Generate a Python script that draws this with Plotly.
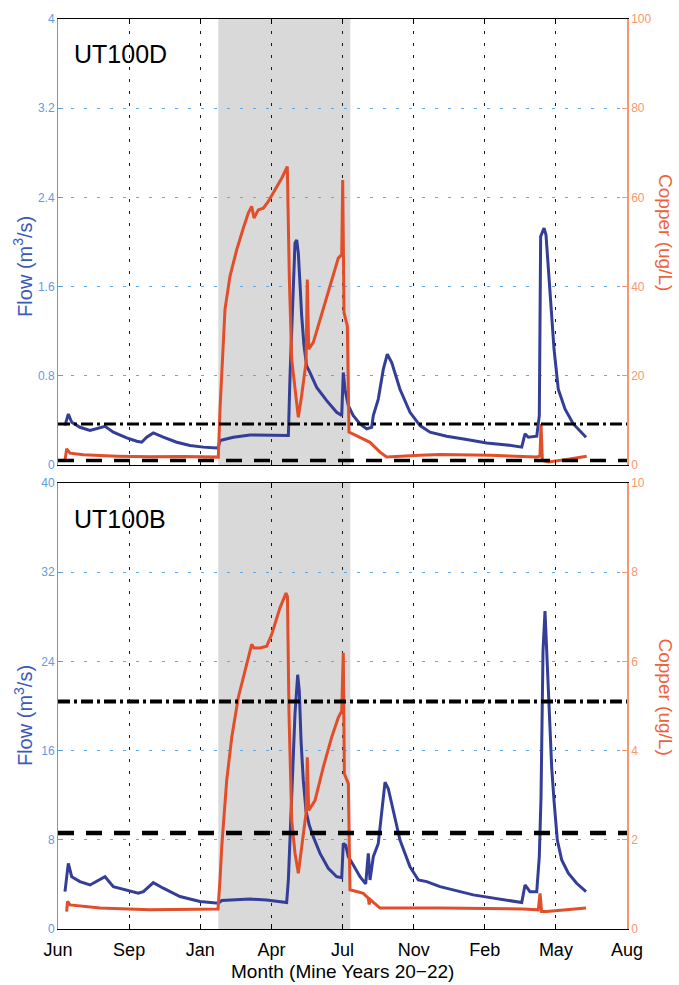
import plotly.graph_objects as go

# ---- axis definitions -------------------------------------------------------
tick_days = [0, 100, 200, 300, 400, 500, 600, 700, 800]
month_labels = ["Jun", "Sep", "Jan", "Apr", "Jul", "Nov", "Feb", "May", "Aug"]

ud_flow_ticks = [0, 0.8, 1.6, 2.4, 3.2, 4]
ud_cu_ticks = [0, 20, 40, 60, 80, 100]
ub_flow_ticks = [0, 8, 16, 24, 32, 40]
ub_cu_ticks = [0, 2, 4, 6, 8, 10]

# shaded period (days since start of record)
shade_period = [225.4, 411.0]

# guideline levels, copper (ug/L): [dash-dot, dashed]
ud_cu_guides = [9.2, 1.0]
ub_cu_guides = [5.1, 2.15]

# ---- UT100D series: (day, value) ------------------------------------------
ud_flow = [
    (9.8, 0.354), (11.2, 0.393), (14.5, 0.458), (19.3, 0.384), (30.9, 0.339),
    (45.0, 0.310), (54.4, 0.324), (66.1, 0.348), (77.8, 0.295), (96.6, 0.244),
    (110.7, 0.214), (117.7, 0.205), (124.7, 0.250), (134.0, 0.288), (148.0, 0.250),
    (166.9, 0.205), (185.6, 0.176), (204.3, 0.161), (223.1, 0.154), (225.4, 0.160),
    (227.8, 0.220), (246.5, 0.250), (270.0, 0.270), (293.4, 0.265), (321.5, 0.265),
    (323.9, 0.265), (326.2, 0.800), (333.2, 1.990), (335.6, 2.020), (337.9, 1.900),
    (340.2, 1.630), (342.6, 1.340), (345.9, 1.070), (349.6, 0.890), (354.3, 0.830),
    (363.7, 0.696), (377.8, 0.578), (391.8, 0.473), (398.9, 0.444), (401.1, 0.830),
    (403.5, 0.680), (408.2, 0.533), (415.2, 0.444), (424.6, 0.369), (434.0, 0.324),
    (441.0, 0.339), (443.3, 0.444), (450.3, 0.592), (457.4, 0.860), (463.0, 0.994),
    (469.2, 0.920), (480.8, 0.680), (494.9, 0.473), (509.0, 0.354), (523.0, 0.295),
    (546.5, 0.259), (574.6, 0.229), (602.7, 0.199), (630.9, 0.181), (652.0, 0.161),
    (656.6, 0.280), (661.3, 0.250), (673.1, 0.259), (676.7, 0.444), (678.6, 2.050),
    (683.3, 2.125), (686.1, 2.065), (689.4, 1.750), (692.7, 1.400), (697.4, 1.040),
    (703.4, 0.680), (712.8, 0.503), (724.5, 0.369), (742.4, 0.250),
]

ud_copper = [
    (9.8, 1.05), (12.2, 3.64), (16.9, 2.68), (35.6, 2.30), (82.5, 2.00),
    (129.4, 1.85), (176.2, 1.94), (223.1, 1.94), (225.4, 1.79), (227.8, 12.6),
    (230.2, 20.0), (234.8, 34.9), (241.8, 42.3), (251.3, 48.3), (260.5, 53.1),
    (267.6, 56.5), (272.3, 58.0), (275.6, 55.4), (281.6, 57.2), (288.7, 57.6),
    (295.7, 59.1), (305.1, 61.7), (314.5, 64.3), (322.4, 66.9), (325.2, 42.3),
    (328.6, 23.7), (333.2, 17.0), (337.9, 10.7), (342.6, 15.6), (348.7, 23.0),
    (350.5, 41.6), (352.5, 26.0), (359.0, 27.5), (368.4, 32.7), (377.8, 37.9),
    (387.1, 43.1), (394.1, 46.4), (398.9, 47.2), (400.3, 63.9), (402.1, 34.2),
    (406.8, 31.2), (409.1, 7.4), (420.0, 6.6), (438.7, 5.1), (452.7, 2.9),
    (462.1, 1.8), (509.0, 2.2), (537.1, 2.4), (607.4, 2.2), (659.0, 2.0),
    (673.0, 1.8), (677.7, 2.0), (679.1, 9.2), (681.0, 1.05), (689.4, 0.67),
    (715.2, 1.27), (743.3, 2.0),
]

# ---- UT100B series: (day, value) ------------------------------------------
ub_flow = [
    (9.8, 3.35), (12.2, 4.84), (14.5, 5.89), (19.3, 4.69), (30.9, 4.25),
    (45.0, 3.95), (66.1, 4.69), (77.8, 3.80), (96.6, 3.51), (112.9, 3.21),
    (120.0, 3.35), (134.0, 4.16), (148.0, 3.66), (171.5, 2.91), (199.6, 2.46),
    (225.4, 2.32), (230.2, 2.55), (270.0, 2.68), (293.4, 2.61), (321.5, 2.37),
    (323.9, 4.40), (327.2, 10.3), (333.2, 19.3), (337.0, 22.8), (339.3, 21.3),
    (341.7, 16.9), (344.9, 13.3), (348.7, 10.6), (353.3, 9.30), (359.0, 8.26),
    (368.4, 6.78), (380.0, 5.44), (391.8, 4.69), (398.9, 4.60), (401.1, 7.67),
    (404.5, 7.52), (408.2, 6.48), (415.2, 5.74), (424.6, 4.69), (432.6, 4.04),
    (436.3, 6.78), (438.7, 4.40), (443.3, 6.48), (450.3, 7.67), (455.0, 10.35),
    (459.8, 13.17), (464.4, 12.58), (471.4, 10.64), (480.8, 7.97), (494.9, 5.58),
    (506.6, 4.40), (518.4, 4.25), (537.1, 3.80), (583.9, 3.06), (630.9, 2.61),
    (652.0, 2.37), (656.6, 3.95), (663.6, 3.35), (673.1, 3.35), (676.7, 6.48),
    (679.1, 11.8), (681.9, 24.9), (684.7, 28.5), (689.4, 21.9), (691.7, 17.5),
    (694.1, 14.5), (697.4, 11.5), (702.0, 7.97), (708.2, 6.19), (717.5, 5.00),
    (729.2, 4.10), (742.4, 3.35),
]

ub_copper = [
    (12.2, 0.39), (13.4, 0.62), (16.9, 0.54), (59.1, 0.47), (129.4, 0.43),
    (225.0, 0.45), (227.8, 1.10), (230.2, 1.84), (237.2, 3.33), (244.3, 4.30),
    (253.5, 5.19), (265.3, 5.93), (272.3, 6.38), (275.6, 6.30), (284.0, 6.30),
    (293.4, 6.34), (300.4, 6.60), (312.1, 7.20), (320.6, 7.53), (322.6, 7.45),
    (324.8, 4.82), (328.6, 2.44), (333.2, 1.70), (337.9, 1.25), (342.6, 1.84),
    (348.7, 2.59), (350.5, 3.85), (352.5, 2.66), (361.3, 2.88), (373.0, 3.63),
    (384.8, 4.30), (394.1, 4.74), (398.9, 4.89), (401.1, 6.19), (402.6, 3.48),
    (408.2, 3.26), (410.5, 0.88), (429.3, 0.80), (436.3, 0.69), (437.5, 0.55),
    (439.0, 0.66), (452.7, 0.47), (509.0, 0.47), (537.1, 0.47), (654.2, 0.45),
    (675.3, 0.43), (677.7, 0.80), (680.0, 0.39), (687.0, 0.39), (742.4, 0.47),
]

# ---- styling ----------------------------------------------------------------
FONT = "Liberation Sans, Arial, sans-serif"
FLOW_LINE = "rgb(52,62,150)"
CU_LINE = "rgb(226,78,42)"
FLOW_AXIS = "rgb(95,155,225)"
CU_AXIS = "rgb(248,150,110)"
FLOW_TITLE = "rgb(60,88,185)"
CU_TITLE = "rgb(238,98,58)"
SHADE = "rgb(217,217,217)"

fig = go.Figure()


def add_series(points, xa, ya, color):
    fig.add_trace(go.Scatter(
        x=[p[0] for p in points], y=[p[1] for p in points],
        xaxis=xa, yaxis=ya, mode="lines",
        line=dict(color=color, width=3), hoverinfo="skip", showlegend=False))


def add_guides(levels, xa, ya, widths):
    dashes = ["12px,4px,3px,4px", "16px,12px"]
    for lvl, dash, w in zip(levels, dashes, widths):
        fig.add_trace(go.Scatter(
            x=[tick_days[0], tick_days[-1]], y=[lvl, lvl],
            xaxis=xa, yaxis=ya, mode="lines",
            line=dict(color="black", width=w, dash=dash),
            hoverinfo="skip", showlegend=False))


add_series(ud_flow, "x", "y", FLOW_LINE)
add_series(ud_copper, "x", "y2", CU_LINE)
add_guides(ud_cu_guides, "x", "y2", [3, 3.5])

add_series(ub_flow, "x2", "y3", FLOW_LINE)
add_series(ub_copper, "x2", "y4", CU_LINE)
add_guides(ub_cu_guides, "x2", "y4", [4, 4.5])

# shaded period in both panels
for xr, yr in (("x", "y domain"), ("x2", "y3 domain")):
    fig.add_shape(type="rect", xref=xr, yref=yr,
                  x0=shade_period[0], x1=shade_period[1], y0=0, y1=1,
                  fillcolor=SHADE, line=dict(width=0), layer="below")

top_dom = [0.5098, 1.0]
bot_dom = [0.0, 0.4902]

x_common = dict(
    range=[tick_days[0], tick_days[-1]], tickmode="array",
    tickvals=tick_days, ticktext=month_labels,
    showline=True, linecolor="black", linewidth=1, mirror="ticks",
    ticks="inside", ticklen=5, tickcolor="black",
    showgrid=True, gridcolor="rgb(25,25,25)", gridwidth=1, griddash="3px,9px",
    zeroline=False, tickfont=dict(family=FONT, size=18, color="black"),
)


def flow_axis(ticks, dom, anchor):
    return dict(
        domain=dom, anchor=anchor, range=[ticks[0], ticks[-1]],
        tickmode="array", tickvals=ticks, ticktext=[f"{t:g}" for t in ticks],
        showline=True, linecolor=FLOW_AXIS, linewidth=1,
        ticks="inside", ticklen=5, tickcolor=FLOW_AXIS,
        showgrid=True, gridcolor="rgb(95,170,230)", gridwidth=1,
        griddash="3px,10px", zeroline=False,
        tickfont=dict(family=FONT, size=12, color=FLOW_AXIS),
    )


def cu_axis(ticks, over, anchor):
    return dict(
        overlaying=over, side="right", anchor=anchor,
        range=[ticks[0], ticks[-1]], tickmode="array", tickvals=ticks,
        ticktext=[f"{t:g}" for t in ticks],
        showline=True, linecolor=CU_AXIS, linewidth=1.5,
        ticks="inside", ticklen=5, tickcolor=CU_AXIS,
        showgrid=False, zeroline=False,
        tickfont=dict(family=FONT, size=12, color=CU_AXIS),
    )


fig.update_layout(
    width=679, height=985,
    margin=dict(l=58, r=52, t=15, b=56),
    paper_bgcolor="white", plot_bgcolor="white",
    showlegend=False,
    xaxis=dict(x_common, anchor="y", showticklabels=False),
    xaxis2=dict(x_common, anchor="y3", ticklabelstandoff=4),
    yaxis=flow_axis(ud_flow_ticks, top_dom, "x"),
    yaxis2=cu_axis(ud_cu_ticks, "y", "x"),
    yaxis3=flow_axis(ub_flow_ticks, bot_dom, "x2"),
    yaxis4=cu_axis(ub_cu_ticks, "y3", "x2"),
)

notes = [
    dict(text="UT100D", xref="x domain", yref="y domain", x=0.024, y=0.922,
         xanchor="left", yanchor="middle", showarrow=False,
         font=dict(family=FONT, size=25, color="black")),
    dict(text="UT100B", xref="x2 domain", yref="y3 domain", x=0.024, y=0.92,
         xanchor="left", yanchor="middle", showarrow=False,
         font=dict(family=FONT, size=25, color="black")),
    dict(text="Flow (m<sup>3</sup>/s)", xref="paper", yref="paper",
         x=-0.0615, y=0.7276, xanchor="center", yanchor="middle",
         textangle=-90, showarrow=False,
         font=dict(family=FONT, size=20, color=FLOW_TITLE)),
    dict(text="Flow (m<sup>3</sup>/s)", xref="paper", yref="paper",
         x=-0.0615, y=0.234, xanchor="center", yanchor="middle",
         textangle=-90, showarrow=False,
         font=dict(family=FONT, size=20, color=FLOW_TITLE)),
    dict(text="Copper (ug/L)", xref="paper", yref="paper",
         x=1.0685, y=0.7648, xanchor="center", yanchor="middle",
         textangle=90, showarrow=False,
         font=dict(family=FONT, size=19, color=CU_TITLE)),
    dict(text="Copper (ug/L)", xref="paper", yref="paper",
         x=1.0685, y=0.2544, xanchor="center", yanchor="middle",
         textangle=90, showarrow=False,
         font=dict(family=FONT, size=19, color=CU_TITLE)),
    dict(text="Month (Mine Years 20\u221222)", xref="paper", yref="paper",
         x=0.5, y=-0.0467, xanchor="center", yanchor="middle",
         showarrow=False, font=dict(family=FONT, size=19, color="black")),
]
fig.update_layout(annotations=notes)

fig.write_html("out.html")
